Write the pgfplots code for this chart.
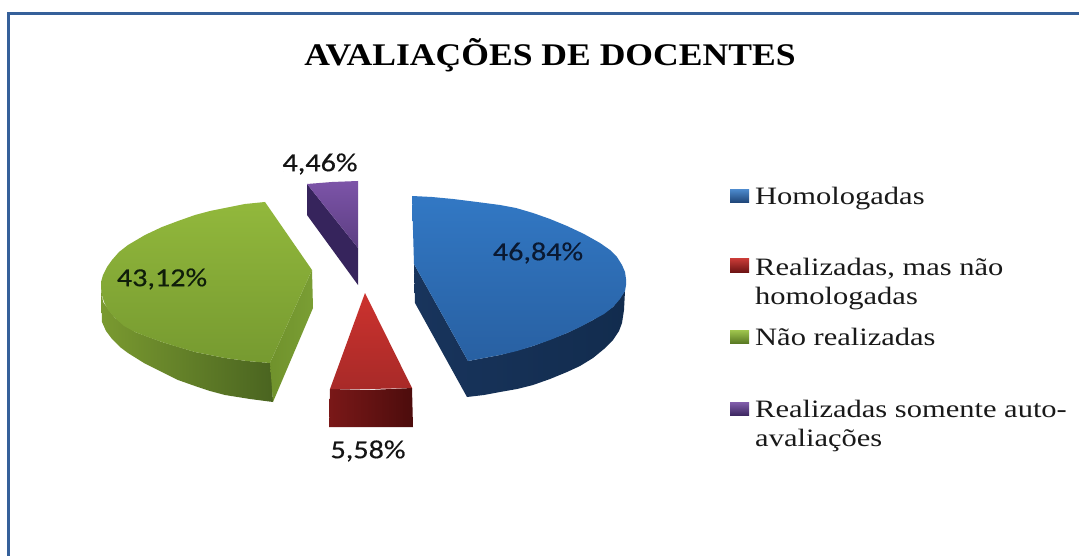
\documentclass[border=0pt]{standalone}
\usepackage{pgfplots}
\pgfplotsset{compat=1.18}
\usepackage{fontspec}
\setmainfont{Liberation Serif}
\newfontfamily\titlefont[FakeStretch=1.13]{Liberation Serif}
\newfontfamily\legfont[FakeStretch=1.22]{Liberation Serif}
\newfontfamily\lblfont[FakeStretch=1.16,FakeBold=0.4]{Carlito}
\definecolor{frameblue}{HTML}{35609A}
\definecolor{gsl}{RGB}{122,154,48}\definecolor{gsr}{RGB}{74,100,32}
\definecolor{gil}{RGB}{112,146,44}\definecolor{gir}{RGB}{122,158,52}
\definecolor{gtt}{RGB}{146,184,60}\definecolor{gtb}{RGB}{118,154,48}
\definecolor{ps}{RGB}{54,36,92}
\definecolor{ptt}{RGB}{124,84,168}\definecolor{ptb}{RGB}{92,62,130}
\definecolor{rsl}{RGB}{122,24,24}\definecolor{rsr}{RGB}{76,12,12}
\definecolor{rtt}{RGB}{204,50,46}\definecolor{rtb}{RGB}{168,42,40}
\definecolor{bsl}{RGB}{24,52,92}\definecolor{bsr}{RGB}{18,44,78}
\definecolor{btt}{RGB}{50,120,196}\definecolor{btb}{RGB}{40,96,162}
\definecolor{l1t}{RGB}{74,134,200}\definecolor{l1b}{RGB}{28,66,116}
\definecolor{l2t}{RGB}{204,60,56}\definecolor{l2b}{RGB}{110,20,20}
\definecolor{l3t}{RGB}{160,198,78}\definecolor{l3b}{RGB}{90,122,36}
\definecolor{l4t}{RGB}{130,94,172}\definecolor{l4b}{RGB}{62,40,98}
\definecolor{tb}{RGB}{10,25,50}\definecolor{tg}{RGB}{15,30,10}\definecolor{tk}{RGB}{20,20,20}\definecolor{tl}{RGB}{25,25,25}
\begin{document}
\begin{tikzpicture}
\begin{axis}[
  scale only axis, width=1079pt, height=556pt,
  xmin=0, xmax=1079, ymin=0, ymax=556, y dir=reverse,
  hide axis, clip=true,
]
% invisible page extent
\addplot[draw=white, fill=white] coordinates {(0,0)(1079,0)(1079,556)(0,556)} --cycle;
% frame
\addplot[draw=frameblue, line width=3pt] coordinates {(8,556)(8,14)(1079,14)};
% ---- green side
\addplot[draw=none, left color=gsl, right color=gsr] coordinates {
(101,288)(102,322)(106,331)(112,339)(120,347)(128,353)(144,363)(162,372)(178,380)(195,386)(210,391)(225,395)(250,399)(273,402)(271,363)(247,361)(225,358)(195,352)(162,342)(135,332)(115,318)(103,302)} --cycle;
% green inner face
\addplot[draw=none, left color=gil, right color=gir] coordinates {
(270,363)(312,270)(313,308)(273,402)} --cycle;
% green top
\addplot[draw=none, top color=gtt, bottom color=gtb] coordinates {
(265,202)(245,204)(225,208)(210,211)(195,215)(178,221)(162,227)(145,235)(128,245)(119,252)(112,260)(107,267)(103,275)(101,282)(101,288)(102,295)(104,302)(108,310)(115,318)(124,326)(135,332)(148,337)(162,342)(178,347)(195,352)(210,355)(225,358)(247,361)(270,363)(312,270)} --cycle;
% ---- purple side
\addplot[draw=none, fill=ps] coordinates {
(307,184)(307,215)(358,285)(358,248)} --cycle;
% purple top
\addplot[draw=none, top color=ptt, bottom color=ptb] coordinates {
(307,184)(332,182)(358,181)(358,248)} --cycle;
% ---- red side
\addplot[draw=none, left color=rsl, right color=rsr] coordinates {
(330,389)(329,427)(413,427)(412,388)(370,390)} --cycle;
% red top
\addplot[draw=none, top color=rtt, bottom color=rtb] coordinates {
(365,293)(412,388)(370,389)(330,389)} --cycle;
% ---- blue side
\addplot[draw=none, left color=bsl, right color=bsr] coordinates {
(414,264)(415,303)(467,397)(484,395)(500,392)(517,389)(533,385)(550,379)(567,372)(580,366)(593,358)(604,349)(613,340)(619,331)(622,323)(624,310)(625,291)(613,307)(593,320)(567,333)(533,346)(500,355)(468,361)} --cycle;
% blue top
\addplot[draw=none, top color=btt, bottom color=btb] coordinates {
(412,196)(432,197)(453,199)(477,202)(500,205)(516,208)(533,213)(550,219)(567,226)(584,234)(600,243)(610,250)(617,257)(622,265)(625,272)(626,279)(626,285)(625,291)(620,299)(613,307)(604,314)(593,320)(580,327)(567,333)(550,340)(533,346)(517,351)(500,355)(484,358)(468,361)(414,264)} --cycle;
% legend swatches
\addplot[draw=none, top color=l1t, bottom color=l1b] coordinates {(730,190)(749,190)(749,203)(730,203)} --cycle;
\addplot[draw=none, top color=l2t, bottom color=l2b] coordinates {(730,258)(749,258)(749,272)(730,272)} --cycle;
\addplot[draw=none, top color=l3t, bottom color=l3b] coordinates {(730,330)(749,330)(749,343)(730,343)} --cycle;
\addplot[draw=none, top color=l4t, bottom color=l4b] coordinates {(730,402)(749,402)(749,415)(730,415)} --cycle;
% title
\node[font=\titlefont\bfseries\fontsize{31.5}{34}\selectfont, text=black] at (axis cs:550,55) {AVALIAÇÕES DE DOCENTES};
% data labels
\node[font=\lblfont\fontsize{26}{30}\selectfont, text=tb] at (axis cs:538,253) {46,84\%};
\node[font=\lblfont\fontsize{26}{30}\selectfont, text=tg] at (axis cs:162,279) {43,12\%};
\node[font=\lblfont\fontsize{26}{30}\selectfont, text=tk] at (axis cs:320,164) {4,46\%};
\node[font=\lblfont\fontsize{26}{30}\selectfont, text=tk] at (axis cs:368,451) {5,58\%};
% legend text
\begin{scope}[every node/.style={font=\legfont\fontsize{25}{30}\selectfont, text=tl, anchor=base west, inner sep=0pt}]
\node at (axis cs:755,205) {Homologadas};
\node at (axis cs:755,276) {Realizadas, mas não};
\node at (axis cs:755,304) {homologadas};
\node at (axis cs:755,345) {Não realizadas};
\node at (axis cs:755,417) {Realizadas somente auto-};
\node at (axis cs:755,446) {avaliações};
\end{scope}
\end{axis}
\end{tikzpicture}
\end{document}
